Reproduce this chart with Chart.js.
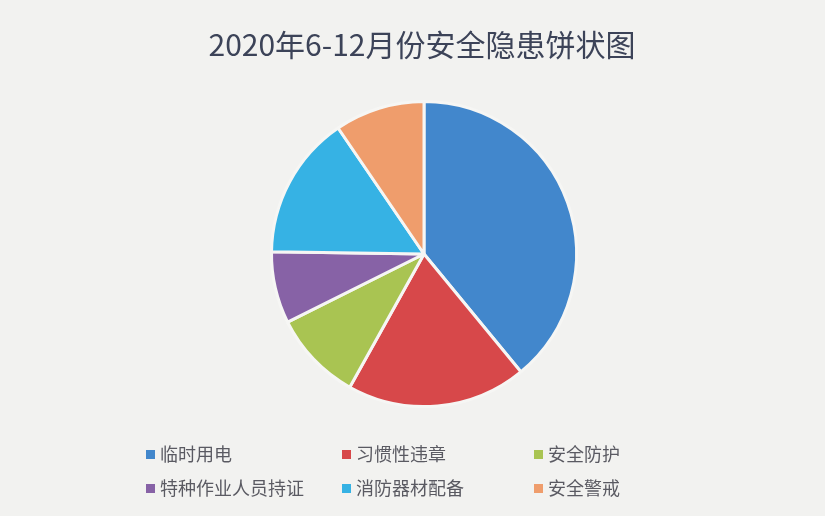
<!DOCTYPE html>
<html>
<head>
<meta charset="utf-8">
<script src="https://cdn.jsdelivr.net/npm/chart.js@4"></script>
<style>
  html, body { margin: 0; padding: 0; background: #f2f2f0; }
  #wrap { position: relative; width: 825px; height: 516px; }
  #title {
    position: absolute; left: 0; width: 844px; top: 21px; text-align: center;
    font-family: "Noto Sans CJK SC", sans-serif; font-size: 30px; color: #3c4358;
  }
  #legend { position: absolute; left: 0; top: 0; width: 825px; height: 516px; pointer-events: none; }
  .item {
    position: absolute; font-family: "Noto Sans CJK SC", sans-serif; font-size: 18px;
    color: #5a5a62; white-space: nowrap; line-height: 20px;
  }
  .item span.box { display: inline-block; width: 9px; height: 9px; margin-right: 5px; vertical-align: 2px; }
</style>
</head>
<body>
<div id="wrap">
  <canvas id="myChart" width="825" height="516"></canvas>
  <div id="title">2020年6-12月份安全隐患饼状图</div>
  <div id="legend"></div>
</div>
<script>
  let labels = ['临时用电', '习惯性违章', '安全防护', '特种作业人员持证', '消防器材配备', '安全警戒']
  let counts = [41, 20, 10, 8, 16, 10]
  let colors = ['#4287cc', '#d7484a', '#a9c452', '#8762a6', '#36b2e4', '#ef9d6c']

  var chartArea = document.getElementById('myChart').getContext('2d');
  var myChart = new Chart(chartArea, {
    type: 'pie',
    data: {
      labels: labels,
      datasets: [{
        data: counts,
        backgroundColor: colors,
        borderColor: '#f6f6f4',
        borderWidth: 3
      }]
    },
    options: {
      responsive: false,
      animation: false,
      layout: { padding: { top: 100, bottom: 108, left: 270, right: 247 } },
      plugins: {
        legend: { display: false },
        title: { display: false },
        tooltip: { enabled: false }
      }
    }
  });

  // legend laid out in 3 columns like the original
  let colX = [146, 342, 534]
  let rowY = [443, 477]
  let legend = document.getElementById('legend')
  labels.forEach(function (name, i) {
    let d = document.createElement('div')
    d.className = 'item'
    d.style.left = colX[i % 3] + 'px'
    d.style.top = rowY[Math.floor(i / 3)] + 'px'
    d.innerHTML = '<span class="box" style="background:' + colors[i] + '"></span>' + name
    legend.appendChild(d)
  })
</script>
</body>
</html>
